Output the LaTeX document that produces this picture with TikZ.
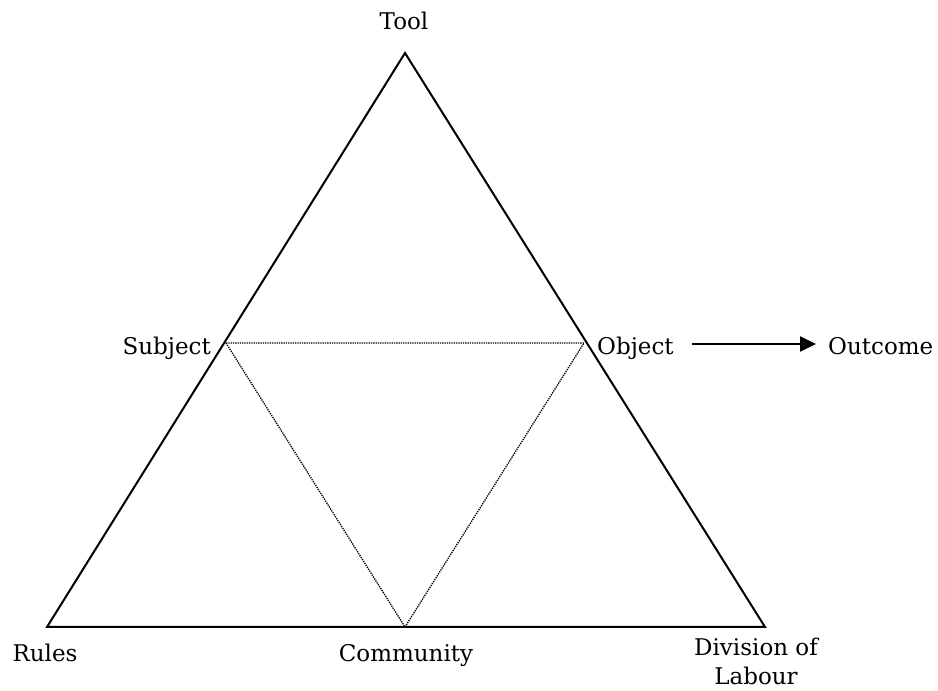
\documentclass[tikz,border=0pt]{standalone}
\usepackage{fontspec}
\setmainfont{DejaVu Serif}
\usetikzlibrary{arrows.meta}
\begin{document}
\begin{tikzpicture}[
  x=1pt, y=1pt,
  edge/.style={line width=2pt, line join=miter},
  inner/.style={densely dotted, line width=1.3pt},
  lbl/.style={font=\fontsize{23}{29}\selectfont, inner sep=0pt},
  flow/.style={line width=2pt, -{Triangle[length=16pt,width=15pt]}}
]
\useasboundingbox (0,0) rectangle (938,691);
% corners of the outer triangle
\coordinate (tool) at (405,638);
\coordinate (rules) at (47,64);
\coordinate (labour) at (765,64);
% mid points
\coordinate (subject) at (226,348);
\coordinate (object) at (584,348);
\coordinate (community) at (405,64);
% outer triangle
\draw[edge] (tool) -- (labour) -- (rules) -- cycle;
% inner triangle
\draw[inner] (subject) -- (object) -- (community) -- cycle;
% labels
\node[lbl, anchor=base] (tooltxt) at (404,661) {Tool};
\node[lbl, anchor=base east] (subjtxt) at (211,336) {Subject};
\node[lbl, anchor=base west] (objtxt) at (597,336) {Object};
\node[lbl, anchor=base west] (outtxt) at (828,336) {Outcome};
\node[lbl, anchor=base] (rulestxt) at (45,29) {Rules};
\node[lbl, anchor=base] (commtxt) at (406,29) {Community};
\node[lbl, align=center] (labtxt) at (756,30) {Division of\\Labour};
% outcome arrow
\coordinate (arrowstart) at ([shift={(18,11)}]objtxt.base east);
\coordinate (arrowend) at ([shift={(-12,11)}]outtxt.base west);
\draw[flow] (arrowstart) -- (arrowend);
\end{tikzpicture}
\end{document}
